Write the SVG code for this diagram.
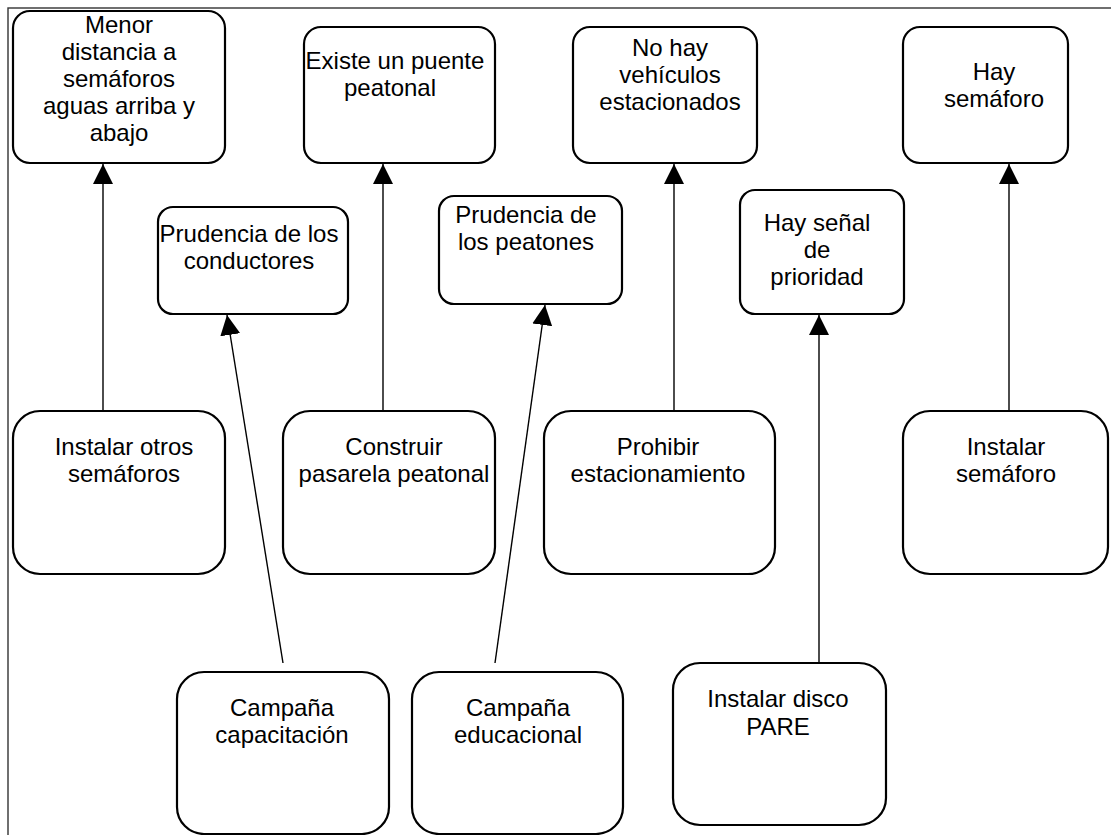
<svg xmlns="http://www.w3.org/2000/svg" width="1111" height="835" viewBox="0 0 1111 835">
<style>
.box{fill:#fff;stroke:#000;stroke-width:2.2}
.t{font-family:"Liberation Sans",Arial,sans-serif;font-size:24px;fill:#000;text-anchor:middle}
.c{stroke:#000;stroke-width:1.4;fill:none}
</style>
<defs>
<marker id="ah" viewBox="0 0 20 20" refX="20" refY="10" markerWidth="20" markerHeight="20" markerUnits="userSpaceOnUse" orient="auto">
<path d="M0,0 L20,10 L0,20 Z" fill="#000"/>
</marker>
</defs>
<rect x="0" y="0" width="1111" height="835" fill="#fff"/>
<rect x="8" y="8" width="1120" height="840" fill="none" stroke="#333" stroke-width="1.4"/>
<g id="connectors">
<line class="c" x1="103" y1="411" x2="103" y2="164" marker-end="url(#ah)"/>
<line class="c" x1="383" y1="411" x2="383" y2="164" marker-end="url(#ah)"/>
<line class="c" x1="674" y1="411" x2="674" y2="164" marker-end="url(#ah)"/>
<line class="c" x1="1009" y1="411" x2="1009" y2="164" marker-end="url(#ah)"/>
<line class="c" x1="819" y1="663" x2="819" y2="315" marker-end="url(#ah)"/>
<line class="c" x1="283" y1="663" x2="227" y2="315" marker-end="url(#ah)"/>
<line class="c" x1="495" y1="663" x2="545" y2="305" marker-end="url(#ah)"/>
</g>
<g id="n_menor">
<rect class="box" x="13" y="11" width="212" height="152" rx="17"/>
<text class="t"><tspan x="119" y="33">Menor</tspan><tspan x="119" y="60">distancia a</tspan><tspan x="119" y="87">semáforos</tspan><tspan x="119" y="114">aguas arriba y</tspan><tspan x="119" y="141">abajo</tspan></text>
</g>
<g id="n_existe">
<rect class="box" x="304" y="27" width="191" height="136" rx="17"/>
<text class="t"><tspan x="395" y="69">Existe un puente</tspan><tspan x="390" y="96">peatonal</tspan></text>
</g>
<g id="n_nohay">
<rect class="box" x="573" y="27" width="184" height="136" rx="17"/>
<text class="t"><tspan x="670" y="56">No hay</tspan><tspan x="670" y="83">vehículos</tspan><tspan x="670" y="110">estacionados</tspan></text>
</g>
<g id="n_haysemaforo">
<rect class="box" x="903" y="27" width="165" height="136" rx="17"/>
<text class="t"><tspan x="994" y="80">Hay</tspan><tspan x="994" y="107">semáforo</tspan></text>
</g>
<g id="n_prudcond">
<rect class="box" x="158" y="207" width="190" height="107" rx="15"/>
<text class="t"><tspan x="249" y="242">Prudencia de los</tspan><tspan x="249" y="269">conductores</tspan></text>
</g>
<g id="n_prudpeat">
<rect class="box" x="439" y="196" width="183" height="108" rx="15"/>
<text class="t"><tspan x="526" y="223">Prudencia de</tspan><tspan x="526" y="250">los peatones</tspan></text>
</g>
<g id="n_senal">
<rect class="box" x="740" y="190" width="164" height="124" rx="15"/>
<text class="t"><tspan x="817" y="231">Hay señal</tspan><tspan x="817" y="258">de</tspan><tspan x="817" y="285">prioridad</tspan></text>
</g>
<g id="n_instotros">
<rect class="box" x="13" y="411" width="212" height="163" rx="27"/>
<text class="t"><tspan x="124" y="455">Instalar otros</tspan><tspan x="124" y="482">semáforos</tspan></text>
</g>
<g id="n_construir">
<rect class="box" x="283" y="411" width="212" height="163" rx="27"/>
<text class="t"><tspan x="394" y="455">Construir</tspan><tspan x="394" y="482">pasarela peatonal</tspan></text>
</g>
<g id="n_prohibir">
<rect class="box" x="544" y="411" width="231" height="163" rx="27"/>
<text class="t"><tspan x="658" y="455">Prohibir</tspan><tspan x="658" y="482">estacionamiento</tspan></text>
</g>
<g id="n_instsemaforo">
<rect class="box" x="903" y="411" width="205" height="163" rx="27"/>
<text class="t"><tspan x="1006" y="455">Instalar</tspan><tspan x="1006" y="482">semáforo</tspan></text>
</g>
<g id="n_capacitacion">
<rect class="box" x="177" y="672" width="212" height="162" rx="27"/>
<text class="t"><tspan x="282" y="716">Campaña</tspan><tspan x="282" y="743">capacitación</tspan></text>
</g>
<g id="n_educacional">
<rect class="box" x="412" y="672" width="211" height="162" rx="27"/>
<text class="t"><tspan x="518" y="716">Campaña</tspan><tspan x="518" y="743">educacional</tspan></text>
</g>
<g id="n_pare">
<rect class="box" x="673" y="663" width="213" height="162" rx="27"/>
<text class="t"><tspan x="778" y="707">Instalar disco</tspan><tspan x="778" y="735">PARE</tspan></text>
</g>
</svg>
